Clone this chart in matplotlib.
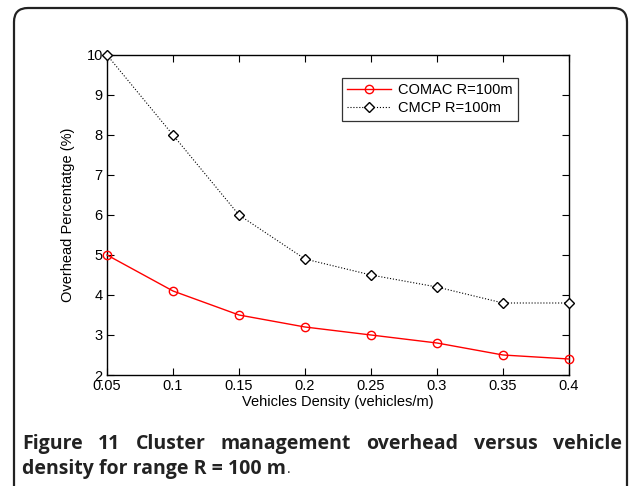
import matplotlib.pyplot as plt
from matplotlib.patches import FancyBboxPatch

# data
density = [0.05, 0.1, 0.15, 0.2, 0.25, 0.3, 0.35, 0.4]
comac = [5.0, 4.1, 3.5, 3.2, 3.0, 2.8, 2.5, 2.4]
cmcp = [10.0, 8.0, 6.0, 4.9, 4.5, 4.2, 3.8, 3.8]
yticks = [2, 3, 4, 5, 6, 7, 8, 9, 10]

W, H = 635, 486
plt.rcParams['font.family'] = ['Liberation Sans', 'DejaVu Sans']

fig = plt.figure(figsize=(W / 100, H / 100), dpi=100)

# rounded frame around figure + caption
frame = FancyBboxPatch((14 / W, -0.2), (627 - 14) / W, (H - 8) / H + 0.2,
                       boxstyle='round,pad=0,rounding_size=0.022',
                       transform=fig.transFigure, fill=False,
                       edgecolor='#222222', linewidth=1.6, mutation_aspect=W / H)
fig.patches.append(frame)

ax = fig.add_axes([107 / W, 1 - 375 / H, (569 - 107) / W, (375 - 55) / H])
ax.plot(density, comac, color='red', linestyle='-', linewidth=1.0,
        marker='o', markersize=6, markerfacecolor='none', markeredgecolor='red',
        label='COMAC R=100m', clip_on=False, zorder=3)
ax.plot(density, cmcp, color='black', linestyle=':', linewidth=0.8,
        marker='D', markersize=5, markerfacecolor='white', markeredgecolor='black',
        markeredgewidth=1.0, label='CMCP R=100m', clip_on=False, zorder=3)

ax.set_xlim(0.05, 0.4)
ax.set_ylim(2, 10)
ax.set_xticks(density)
ax.set_xticklabels(['0.05', '0.1', '0.15', '0.2', '0.25', '0.3', '0.35', '0.4'])
ax.set_yticks(yticks)
ax.tick_params(direction='in', top=True, right=True, labelsize=10.5,
               length=5, width=0.8, pad=3)
for s in ax.spines.values():
    s.set_linewidth(1.0)
ax.set_xlabel('Vehicles Density (vehicles/m)', fontsize=10.5, labelpad=1)
ax.set_ylabel('Overhead Percentatge (%)', fontsize=10.5, labelpad=8)

leg = ax.legend(loc='upper left', bbox_to_anchor=(342 / W, 1 - 78 / H),
                bbox_transform=fig.transFigure, borderaxespad=0,
                fancybox=False, edgecolor='black', fontsize=10.5,
                handlelength=3.0, borderpad=0.35, labelspacing=0.3,
                handletextpad=0.5)
leg.get_frame().set_linewidth(0.9)

# caption, first line justified word by word
cap1 = ['Figure', '11', 'Cluster', 'management', 'overhead', 'versus', 'vehicle']
cap2 = 'density for range R = 100 m'
x0, x1 = 22, 622
y1, y2 = 444, 469
fig.canvas.draw()
r = fig.canvas.get_renderer()
words = [fig.text(0, 1 - y1 / H, w, fontsize=14, fontweight='bold',
                  family=['Open Sans', 'DejaVu Sans'], color='#222222',
                  va='center') for w in cap1]
widths = [t.get_window_extent(r).width for t in words]
gap = (x1 - x0 - sum(widths)) / (len(words) - 1)
x = x0
for t, w in zip(words, widths):
    t.set_x(x / W)
    x += w + gap
t2 = fig.text(x0 / W, 1 - y2 / H, cap2, fontsize=14, fontweight='bold',
              family=['Open Sans', 'DejaVu Sans'], color='#222222', va='center')
w2 = t2.get_window_extent(r).width
fig.text((x0 + w2 + 1) / W, 1 - y2 / H, '.', fontsize=10,
         family=['Open Sans', 'DejaVu Sans'], color='#222222', va='center')

fig.savefig('out.png', dpi=100)
